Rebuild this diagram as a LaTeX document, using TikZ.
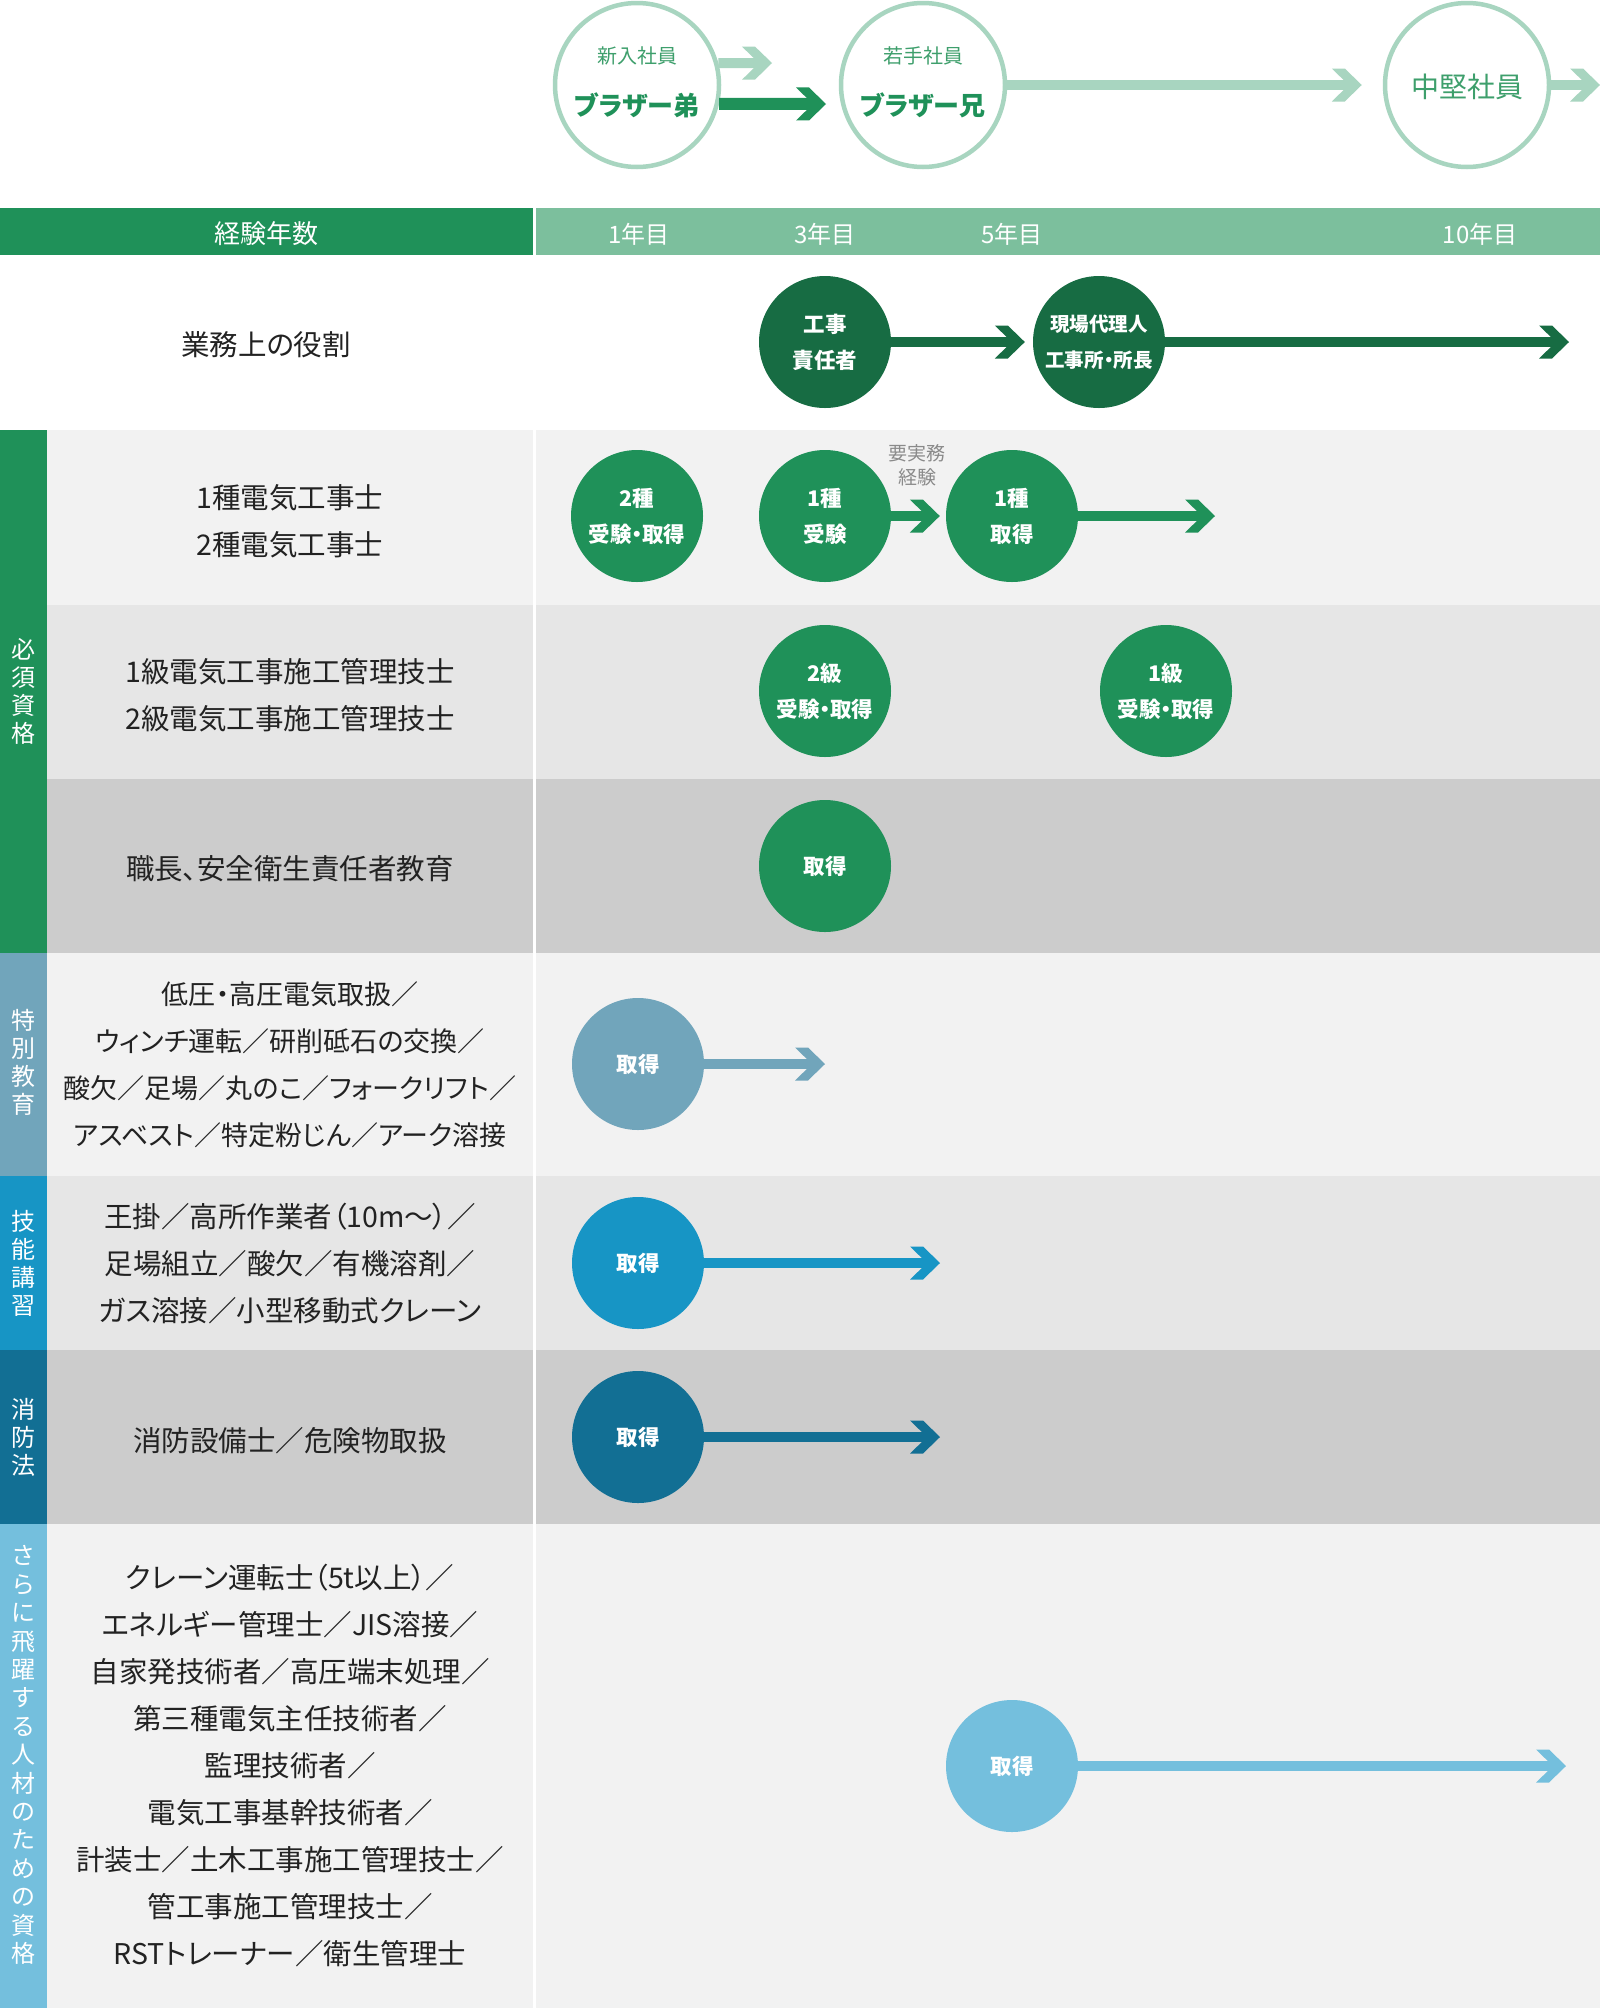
\documentclass[tikz,border=0pt]{standalone}
\usepackage{fontspec}
\setmainfont{Noto Sans CJK JP}[RawFeature={+palt}]
\usetikzlibrary{arrows.meta,positioning}

\definecolor{brandgreen}{HTML}{1F9159}
\definecolor{deepgreen}{HTML}{176C43}
\definecolor{bandgreen}{HTML}{7CBF9D}
\definecolor{palegreen}{HTML}{A8D5C0}
\definecolor{midgreen}{HTML}{3E9F6C}
\definecolor{grayblue}{HTML}{71A5BB}
\definecolor{skillblue}{HTML}{1795C5}
\definecolor{fireblue}{HTML}{126F94}
\definecolor{skyblue}{HTML}{74BFDD}
\definecolor{rowA}{HTML}{F2F2F2}
\definecolor{rowB}{HTML}{E6E6E6}
\definecolor{rowC}{HTML}{CCCCCC}
\definecolor{inktext}{HTML}{222222}
\definecolor{notegray}{HTML}{8A8A8A}

% open chevron head with flat cut ends
\pgfdeclarearrow{
  name = Chevron,
  setup code = {
    \pgfarrowssettipend{0pt}
    \pgfarrowssetlineend{-11pt}
    \pgfarrowssetbackend{-30pt}
    \pgfarrowssetvisualbackend{-13pt}
    \pgfarrowshullpoint{0pt}{0pt}
    \pgfarrowsupperhullpoint{-30pt}{16.5pt}
  },
  drawing code = {
    \pgfpathmoveto{\pgfqpoint{0pt}{0pt}}
    \pgfpathlineto{\pgfqpoint{-17pt}{16.5pt}}
    \pgfpathlineto{\pgfqpoint{-30pt}{16.5pt}}
    \pgfpathlineto{\pgfqpoint{-13pt}{0pt}}
    \pgfpathlineto{\pgfqpoint{-30pt}{-16.5pt}}
    \pgfpathlineto{\pgfqpoint{-17pt}{-16.5pt}}
    \pgfpathclose
    \pgfusepathqfill
  }
}

\tikzset{
  stage/.style={circle, draw=palegreen, line width=4.5pt, fill=white, minimum size=164pt, inner sep=0pt},
  badge/.style={circle, minimum size=132pt, inner sep=0pt, text=white, align=center,
    font=\bfseries\fontsize{21.5}{36}\selectfont},
  rowlabel/.style={align=center, text=inktext, font=\fontsize{28.5}{47}\selectfont},
  sidelabel/.style={align=center, text=white, font=\fontsize{24}{28}\selectfont},
  yearlabel/.style={text=white, font=\fontsize{24}{24}\selectfont},
  flow/.style={line width=10pt, -{Chevron}},
}

\begin{document}
\begin{tikzpicture}[x=1pt,y=-1pt]
    \useasboundingbox (0,0) rectangle (1600,2008);
    \fill[white] (0,0) rectangle (1600,2008);

    % header band and rows
    \fill[brandgreen] (0,208) rectangle (533,255);
    \fill[bandgreen]  (536,208) rectangle (1600,255);
    \fill[rowA] (0,430)  rectangle (1600,605);
    \fill[rowB] (0,605)  rectangle (1600,779);
    \fill[rowC] (0,779)  rectangle (1600,953);
    \fill[rowA] (0,953)  rectangle (1600,1176);
    \fill[rowB] (0,1176) rectangle (1600,1350);
    \fill[rowC] (0,1350) rectangle (1600,1524);
    \fill[rowA] (0,1524) rectangle (1600,2008);
    \fill[white] (533,255) rectangle (536,2008);

    % side bars
    \fill[brandgreen] (0,430)  rectangle (47,953);
    \fill[grayblue]   (0,953)  rectangle (47,1176);
    \fill[skillblue]  (0,1176) rectangle (47,1350);
    \fill[fireblue]   (0,1350) rectangle (47,1524);
    \fill[skyblue]    (0,1524) rectangle (47,2008);

    \node[sidelabel] (hissu)    at (23.5,691)  {必\\須\\資\\格};
    \node[sidelabel] (tokubetsu) at (23.5,1062) {特\\別\\教\\育};
    \node[sidelabel] (ginou)    at (23.5,1263) {技\\能\\講\\習};
    \node[sidelabel] (shoubou)  at (23.5,1437) {消\\防\\法};
    \node[sidelabel, font=\fontsize{24}{28.4}\selectfont] (sarani) at (23.5,1755)
        {さ\\ら\\に\\飛\\躍\\す\\る\\人\\材\\の\\た\\め\\の\\資\\格};

    % header texts
    \node[text=white, font=\fontsize{26}{26}\selectfont] (keiken) at (266,234) {経験年数};
    \node[yearlabel] (year1)  at (639,234)  {1年目};
    \node[yearlabel] (year3)  at (825,234)  {3年目};
    \node[yearlabel] (year5)  at (1012,234) {5年目};
    \node[yearlabel] (year10) at (1480,234) {10年目};

    % row labels
    \node[rowlabel] (roleLabel)  at (266,345)  {業務上の役割};
    \node[rowlabel] (denkiLabel) at (290,521)  {1種電気工事士\\2種電気工事士};
    \node[rowlabel] (sekouLabel) at (290,695)  {1級電気工事施工管理技士\\2級電気工事施工管理技士};
    \node[rowlabel] (shokuLabel) at (290,869)  {職長、安全衛生責任者教育};
    \node[rowlabel, font=\fontsize{27}{47}\selectfont] (tokuLabel) at (290,1065)
        {低圧・高圧電気取扱／\\ウィンチ運転／研削砥石の交換／\\酸欠／足場／丸のこ／フォークリフト／\\アスベスト／特定粉じん／アーク溶接};
    \node[rowlabel] (ginouLabel) at (290,1264) {王掛／高所作業者（10m〜）／\\足場組立／酸欠／有機溶剤／\\ガス溶接／小型移動式クレーン};
    \node[rowlabel] (shouLabel)  at (290,1441) {消防設備士／危険物取扱};
    \node[rowlabel] (saraLabel)  at (290,1766) {クレーン運転士（5t以上）／\\エネルギー管理士／JIS溶接／\\自家発技術者／高圧端末処理／\\第三種電気主任技術者／\\監理技術者／\\電気工事基幹技術者／\\計装士／土木工事施工管理技士／\\管工事施工管理技士／\\RSTトレーナー／衛生管理士};

    % career stages
    \node[stage] (junior)   at (637,85)  {};
    \node[stage] (senior)   at (923,85)  {};
    \node[stage] (midlevel) at (1467,85) {};
    \node[text=midgreen, font=\fontsize{20}{20}\selectfont] (juniorTag) at (637,56) {新入社員};
    \node[text=brandgreen, font=\bfseries\fontsize{26}{26}\selectfont] (juniorName) at (637,105) {ブラザー弟};
    \node[text=midgreen, font=\fontsize{20}{20}\selectfont] (seniorTag) at (923,56) {若手社員};
    \node[text=brandgreen, font=\bfseries\fontsize{26}{26}\selectfont] (seniorName) at (923,105) {ブラザー兄};
    \node[text=midgreen, font=\fontsize{28}{28}\selectfont] (midTag) at (1467,87) {中堅社員};

    \coordinate (juniorOut)  at (772,63);
    \coordinate (juniorStep) at (826,104);
    \coordinate (midOut)     at (1600,85);
    \draw[flow, palegreen] (junior.15) -- (juniorOut);
    \draw[flow, brandgreen, line width=12pt] (junior.-13) -- (juniorStep);
    \draw[flow, palegreen, shorten >=21pt] (senior) -- (midlevel);
    \draw[flow, palegreen] (midlevel) -- (midOut);

    % roles
    \node[badge, fill=deepgreen] (kouji) at (825,342)  {工事\\責任者};
    \node[badge, fill=deepgreen, font=\bfseries\fontsize{19.5}{36}\selectfont] (genba) at (1099,342)
        {現場代理人\\工事所・所長};
    \coordinate (roleEnd) at (1569,342);
    \draw[flow, deepgreen, shorten >=8pt] (kouji) -- (genba);
    \draw[flow, deepgreen] (genba) -- (roleEnd);

    % required qualifications
    \node[badge, fill=brandgreen] (nishu)        at (637,516)  {2種\\受験・取得};
    \node[badge, fill=brandgreen] (isshuJuken)   at (825,516)  {1種\\受験};
    \node[badge, fill=brandgreen] (isshuShutoku) at (1012,516) {1種\\取得};
    \node[align=center, text=notegray, font=\fontsize{19}{24}\selectfont] (jitsumu) at (917,465) {要実務\\経験};
    \coordinate (denkiEnd) at (1215,516);
    \draw[flow, brandgreen, shorten >=6pt] (isshuJuken) -- (isshuShutoku);
    \draw[flow, brandgreen] (isshuShutoku) -- (denkiEnd);

    \node[badge, fill=brandgreen] (nikyu) at (825,691)  {2級\\受験・取得};
    \node[badge, fill=brandgreen] (ikkyu) at (1166,691) {1級\\受験・取得};
    \node[badge, fill=brandgreen] (shokuShutoku) at (825,866) {取得};

    % special training, skills, fire law, further
    \node[badge, fill=grayblue]  (tokuShutoku)  at (638,1064) {取得};
    \node[badge, fill=skillblue] (ginouShutoku) at (638,1263) {取得};
    \node[badge, fill=fireblue]  (shouShutoku)  at (638,1437) {取得};
    \node[badge, fill=skyblue]   (saraShutoku)  at (1012,1766) {取得};
    \coordinate (tokuEnd)  at (825,1064);
    \coordinate (ginouEnd) at (940,1263);
    \coordinate (shouEnd)  at (940,1437);
    \coordinate (saraEnd)  at (1566,1766);
    \draw[flow, grayblue]  (tokuShutoku)  -- (tokuEnd);
    \draw[flow, skillblue] (ginouShutoku) -- (ginouEnd);
    \draw[flow, fireblue]  (shouShutoku)  -- (shouEnd);
    \draw[flow, skyblue]   (saraShutoku)  -- (saraEnd);
\end{tikzpicture}
\end{document}
